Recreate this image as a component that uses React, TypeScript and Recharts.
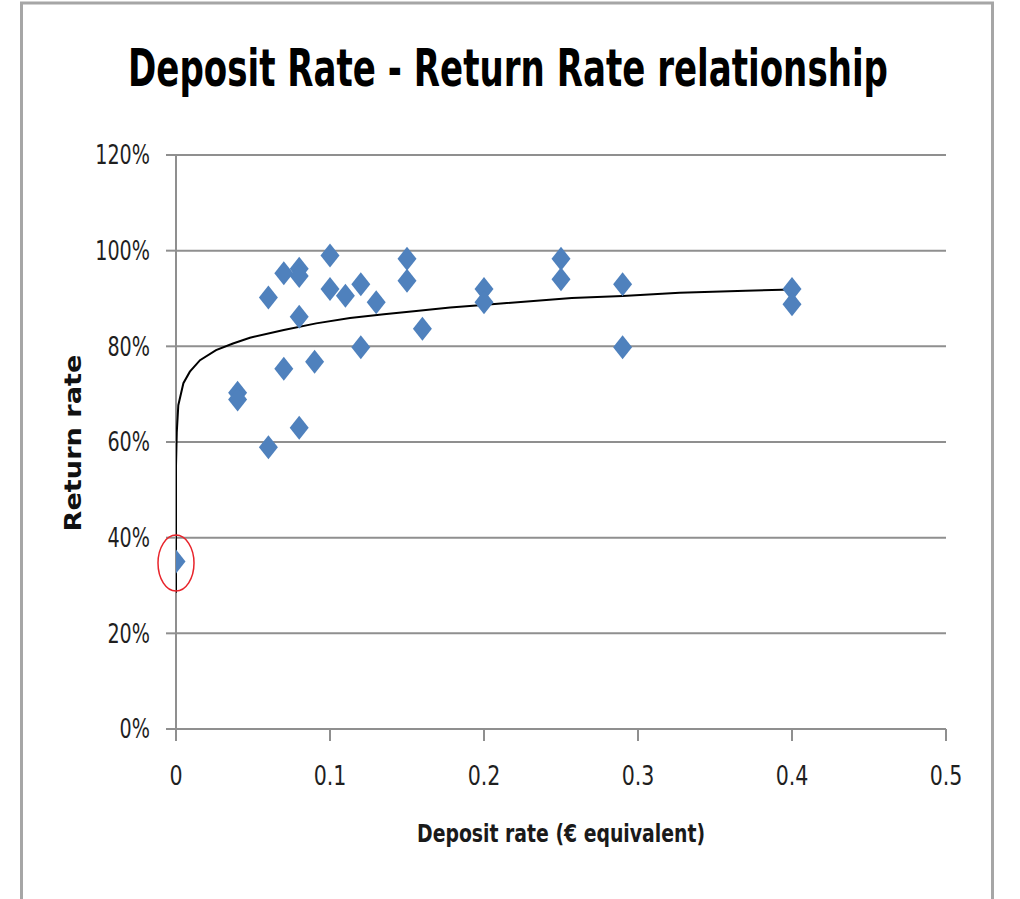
import React from 'react';
import {
  ScatterChart,
  Scatter,
  XAxis,
  YAxis,
  CartesianGrid,
  ReferenceDot,
} from 'recharts';

// Observed data: deposit rate (€ equivalent) vs return rate
const depositRate = [0, 0.04, 0.04, 0.06, 0.06, 0.07, 0.07, 0.08, 0.08, 0.08, 0.08, 0.09, 0.1, 0.1, 0.11, 0.12, 0.12, 0.13, 0.15, 0.15, 0.16, 0.2, 0.2, 0.25, 0.25, 0.29, 0.29, 0.4, 0.4];
const returnRate = [0.35, 0.703, 0.689, 0.902, 0.589, 0.953, 0.753, 0.962, 0.947, 0.862, 0.63, 0.768, 0.99, 0.92, 0.906, 0.93, 0.798, 0.892, 0.983, 0.937, 0.837, 0.92, 0.892, 0.983, 0.94, 0.93, 0.798, 0.92, 0.888];

// Trend line
const trendX = [0, 0, 0.0005, 0.0015, 0.0048, 0.009, 0.0156, 0.026, 0.037, 0.048, 0.07, 0.091, 0.113, 0.135, 0.156, 0.178, 0.197, 0.257, 0.29, 0.327, 0.37, 0.4];
const trendY = [0.285, 0.55, 0.62, 0.677, 0.723, 0.747, 0.771, 0.792, 0.806, 0.818, 0.834, 0.848, 0.859, 0.867, 0.874, 0.881, 0.886, 0.901, 0.905, 0.912, 0.916, 0.919];

const xTicks = [0, 0.1, 0.2, 0.3, 0.4, 0.5];
const yTicks = [0, 0.2, 0.4, 0.6, 0.8, 1.0, 1.2];

const highlightX = 0;
const highlightY = 0.35;

const titleText = 'Deposit Rate - Return Rate relationship';
const xTitle = 'Deposit rate (€ equivalent)';
const yTitle = 'Return rate';

const points = depositRate.map((x, i) => ({ x, y: returnRate[i] }));
const trend = trendX.map((x, i) => ({ x, y: trendY[i] }));

const FONT = "'Liberation Sans Narrow', 'DejaVu Sans Condensed', 'Roboto', sans-serif";
const GRID = '#8f8f8f';

const Diamond = (props: any) => {
  const { cx, cy } = props;
  if (cx == null || cy == null) return <g />;
  const w = 9.5;
  const h = 12;
  return (
    <polygon
      points={`${cx},${cy - h} ${cx + w},${cy} ${cx},${cy + h} ${cx - w},${cy}`}
      fill="#4F81BD"
    />
  );
};

const NoShape = () => <g />;

const Ellipse = (props: any) => {
  const { cx, cy } = props;
  return (
    <ellipse cx={cx} cy={cy + 1.5} rx={18} ry={28} fill="none" stroke="#E8242B" strokeWidth={1.5} />
  );
};

const fmtX = (v: number) => (v === 0 ? '0' : String(v));
const fmtY = (v: number) => `${Math.round(v * 100)}%`;

const XTick = (props: any) => {
  const { x, y, payload } = props;
  return (
    <text
      transform={`translate(${x},${y}) scale(0.88,1)`}
      x={0}
      y={0}
      dy="0.71em"
      textAnchor="middle"
      fontFamily={FONT}
      fontSize={26}
      fill="#1f1f1f"
    >
      {fmtX(payload.value)}
    </text>
  );
};

const YTick = (props: any) => {
  const { x, y, payload } = props;
  return (
    <text
      transform={`translate(${x},${y}) scale(0.82,1)`}
      x={0}
      y={0}
      dy="0.355em"
      textAnchor="end"
      fontFamily={FONT}
      fontSize={26}
      fill="#1f1f1f"
    >
      {fmtY(payload.value)}
    </text>
  );
};

const XTitle = (props: any) => {
  const vb = props.viewBox || {};
  const cx = vb.x + vb.width / 2;
  return (
    <text
      x={cx}
      y={vb.y + 113}
      textAnchor="middle"
      fontFamily={FONT}
      fontWeight="bold"
      fontSize={24}
      fill="#1a1a1a"
      textLength={288}
      lengthAdjust="spacingAndGlyphs"
    >
      {xTitle}
    </text>
  );
};

const YTitle = (props: any) => {
  const vb = props.viewBox || {};
  const cx = 81;
  const cy = vb.y + vb.height / 2 + 1;
  return (
    <text
      x={cx}
      y={cy}
      transform={`rotate(-90 ${cx} ${cy})`}
      textAnchor="middle"
      fontFamily="'DejaVu Sans', 'Liberation Sans', sans-serif"
      fontWeight="bold"
      fontSize={23}
      fill="#111"
      textLength={177}
      lengthAdjust="spacingAndGlyphs"
    >
      {yTitle}
    </text>
  );
};

export default function App() {
  return (
    <div style={{ position: 'absolute', left: 0, top: 0, width: 1020, height: 899, background: '#fff', overflow: 'hidden' }}>
      <svg width={1020} height={899} style={{ position: 'absolute', left: 0, top: 0 }}>
        <rect x={21.5} y={3} width={971} height={930} fill="#fff" stroke="#a6a6a6" strokeWidth={3} />
        <text
          transform="translate(128,86) scale(1,1.36)"
          x={0}
          y={0}
          fontFamily={FONT}
          fontWeight="bold"
          fontSize={38}
          fill="#000"
          textLength={760}
          lengthAdjust="spacingAndGlyphs"
        >
          {titleText}
        </text>
      </svg>
      <div style={{ position: 'absolute', left: 0, top: 0 }}>
        <ScatterChart
          width={1020}
          height={899}
          margin={{ top: 155, right: 74, left: 96, bottom: 110 }}
        >
          <CartesianGrid vertical={false} stroke={GRID} strokeWidth={2} />
          <XAxis
            type="number"
            dataKey="x"
            domain={[0, 0.5]}
            ticks={xTicks}
            interval={0}
            height={60}
            allowDataOverflow
            tick={<XTick />}
            tickSize={12}
            tickMargin={26}
            axisLine={{ stroke: GRID, strokeWidth: 2 }}
            tickLine={{ stroke: GRID, strokeWidth: 2 }}
            label={<XTitle />}
          />
          <YAxis
            type="number"
            dataKey="y"
            domain={[0, 1.2]}
            ticks={yTicks}
            interval={0}
            width={80}
            allowDataOverflow
            tick={<YTick />}
            tickSize={10}
            tickMargin={16}
            axisLine={{ stroke: GRID, strokeWidth: 2 }}
            tickLine={{ stroke: GRID, strokeWidth: 2 }}
            label={<YTitle />}
          />
          <Scatter
            name="Trend"
            data={trend}
            line={{ stroke: '#000', strokeWidth: 2 }}
            lineType="joint"
            shape={NoShape}
            isAnimationActive={false}
          />
          <Scatter
            name="Return rate"
            data={points}
            shape={Diamond}
            isAnimationActive={false}
          />
          <ReferenceDot
            x={highlightX}
            y={highlightY}
            r={18}
            ifOverflow="visible"
            shape={Ellipse}
          />
        </ScatterChart>
      </div>
    </div>
  );
}
